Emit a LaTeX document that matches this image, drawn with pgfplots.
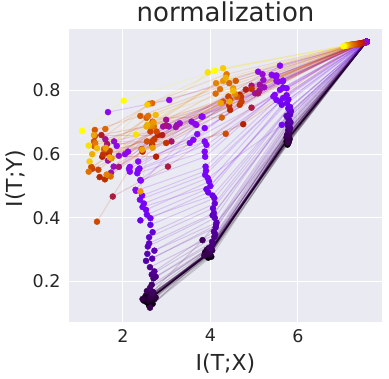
\documentclass[border=0pt]{standalone}
\usepackage{fontspec}
\setmainfont{DejaVu Sans}
\usepackage{pgfplots}
\usepackage{pgfplotstable}
\pgfplotsset{compat=1.18}
\definecolor{bgc}{HTML}{EAEAF2}
\definecolor{txt}{HTML}{262626}

% one row per epoch: colour value (0..1000) and I(T;X), I(T;Y) of the four layers
\pgfplotstableread{
c xa ya xb yb xc yc xd yd
0 7.57 0.953 5.76 0.630 3.95 0.275 2.60 0.125
1 7.57 0.953 5.78 0.648 3.96 0.288 2.65 0.148
2 7.57 0.953 5.78 0.642 3.96 0.285 2.64 0.148
3 7.57 0.953 5.78 0.650 3.97 0.289 2.66 0.150
4 7.57 0.953 5.77 0.649 3.96 0.287 2.64 0.147
5 7.57 0.953 5.78 0.635 3.98 0.280 2.55 0.135
6 7.57 0.953 5.78 0.651 3.97 0.290 2.65 0.151
7 7.57 0.953 5.79 0.650 3.96 0.288 2.66 0.149
8 7.57 0.953 5.77 0.646 3.95 0.288 2.66 0.150
9 7.57 0.953 5.78 0.652 3.97 0.289 2.65 0.150
10 7.57 0.953 5.74 0.640 3.90 0.285 2.48 0.140
11 7.57 0.953 5.78 0.649 3.96 0.290 2.64 0.149
12 7.57 0.953 5.79 0.650 3.97 0.290 2.68 0.152
13 7.57 0.953 5.78 0.653 3.97 0.291 2.66 0.151
14 7.56 0.953 5.80 0.645 4.02 0.278 2.68 0.130
15 7.57 0.953 5.78 0.648 3.96 0.288 2.65 0.150
16 7.57 0.953 5.78 0.648 3.96 0.287 2.65 0.146
17 7.57 0.953 5.79 0.651 3.97 0.290 2.66 0.152
18 7.57 0.953 5.77 0.650 3.93 0.290 2.62 0.150
19 7.57 0.953 5.78 0.650 3.96 0.289 2.65 0.149
20 7.57 0.953 5.79 0.644 3.98 0.284 2.67 0.144
21 7.57 0.953 5.78 0.652 3.97 0.290 2.66 0.151
22 7.56 0.953 5.75 0.655 3.97 0.283 2.72 0.145
23 7.57 0.953 5.78 0.649 3.96 0.289 2.65 0.150
24 7.57 0.953 5.78 0.652 3.95 0.291 2.63 0.154
25 7.57 0.953 5.78 0.651 3.97 0.290 2.66 0.150
26 7.57 0.953 5.79 0.640 3.88 0.292 2.52 0.155
27 7.57 0.953 5.78 0.650 3.96 0.289 2.65 0.151
28 7.57 0.953 5.77 0.647 3.97 0.286 2.66 0.149
29 7.57 0.953 5.78 0.652 3.97 0.291 2.66 0.152
30 7.56 0.953 5.76 0.660 4.00 0.295 2.65 0.160
32 7.57 0.953 5.79 0.653 3.96 0.289 2.64 0.151
34 7.57 0.953 5.81 0.648 3.95 0.288 2.58 0.140
36 7.57 0.953 5.78 0.656 3.94 0.292 2.67 0.156
38 7.56 0.953 5.78 0.665 3.92 0.300 2.75 0.150
40 7.57 0.953 5.77 0.649 3.97 0.285 2.62 0.147
42 7.57 0.953 5.74 0.652 3.99 0.286 2.45 0.145
44 7.57 0.953 5.79 0.658 3.96 0.293 2.66 0.158
46 7.56 0.953 5.80 0.668 4.04 0.298 2.70 0.165
48 7.57 0.953 5.78 0.654 3.95 0.290 2.64 0.153
50 7.57 0.953 5.77 0.636 3.86 0.282 2.62 0.118
52 7.57 0.953 5.79 0.661 3.97 0.294 2.68 0.160
55 7.56 0.953 5.79 0.672 3.96 0.305 2.55 0.170
58 7.57 0.953 5.78 0.664 3.98 0.296 2.66 0.162
60 7.57 0.953 5.75 0.660 3.82 0.330 2.68 0.168
70 7.57 0.953 5.78 0.675 4.02 0.310 2.66 0.190
75 7.57 0.953 5.79 0.678 3.99 0.305 2.62 0.180
80 7.57 0.953 5.82 0.680 4.06 0.320 2.70 0.210
85 7.57 0.953 5.81 0.684 4.04 0.325 2.75 0.215
90 7.57 0.953 5.80 0.688 4.09 0.340 2.66 0.222
95 7.57 0.953 5.77 0.690 4.11 0.348 2.62 0.245
100 7.57 0.953 5.76 0.695 4.08 0.357 2.72 0.232
110 7.57 0.953 5.83 0.700 4.12 0.370 2.53 0.265
115 7.57 0.953 5.80 0.706 4.13 0.378 2.67 0.272
120 7.57 0.953 5.78 0.712 4.14 0.385 2.56 0.287
130 7.57 0.953 5.74 0.720 4.10 0.400 2.72 0.297
135 7.57 0.953 5.82 0.724 4.05 0.408 2.57 0.310
140 7.57 0.953 5.81 0.728 4.08 0.415 2.60 0.320
150 7.57 0.953 5.84 0.735 4.06 0.430 2.60 0.339
160 7.57 0.953 5.79 0.742 4.10 0.445 2.68 0.355
170 7.57 0.953 5.82 0.748 4.09 0.462 2.63 0.378
180 7.57 0.953 5.78 0.744 4.05 0.470 2.40 0.392
190 7.57 0.953 5.63 0.755 3.95 0.480 2.63 0.399
200 7.57 0.953 5.75 0.760 3.91 0.490 2.55 0.410
205 7.57 0.953 5.59 0.765 3.97 0.514 2.53 0.425
210 7.57 0.953 5.78 0.772 4.00 0.500 2.45 0.434
215 7.57 0.953 5.63 0.692 3.94 0.525 2.48 0.445
220 7.57 0.953 5.66 0.776 3.88 0.535 2.39 0.457
225 7.57 0.953 5.74 0.785 3.90 0.548 2.44 0.470
230 7.57 0.953 5.51 0.770 3.89 0.561 2.30 0.485
240 7.57 0.953 5.66 0.809 3.88 0.592 2.41 0.517
245 7.57 0.953 5.47 0.786 3.87 0.608 2.33 0.540
250 7.57 0.953 5.74 0.807 3.91 0.629 2.35 0.550
255 7.57 0.952 5.59 0.802 3.87 0.640 2.38 0.555
260 7.57 0.952 5.55 0.828 3.70 0.663 2.14 0.554
265 7.57 0.952 5.44 0.781 3.61 0.645 2.35 0.577
270 7.57 0.952 5.66 0.831 3.87 0.682 2.16 0.545
275 7.56 0.952 5.47 0.846 3.53 0.635 2.40 0.519
280 7.56 0.952 5.51 0.847 3.80 0.718 2.12 0.608
285 7.56 0.952 5.59 0.878 3.68 0.692 2.29 0.488
290 7.56 0.952 5.40 0.849 3.57 0.702 2.16 0.560
295 7.55 0.952 5.65 0.828 3.82 0.718 1.86 0.626
300 7.55 0.951 5.09 0.859 3.06 0.770 1.66 0.732
310 7.55 0.951 5.51 0.830 3.65 0.695 2.05 0.600
340 7.52 0.950 5.19 0.851 3.30 0.697 1.91 0.595
350 7.52 0.950 5.21 0.833 3.05 0.687 1.80 0.640
360 7.52 0.950 5.23 0.810 3.24 0.692 1.79 0.561
380 7.50 0.950 5.12 0.800 3.21 0.685 1.73 0.542
390 7.50 0.950 5.13 0.818 2.92 0.687 1.66 0.580
400 7.50 0.950 5.02 0.791 2.99 0.708 1.60 0.647
420 7.48 0.949 4.94 0.815 2.99 0.690 1.91 0.560
430 7.48 0.949 5.09 0.791 3.11 0.640 1.64 0.632
460 7.45 0.948 4.94 0.746 3.03 0.561 1.77 0.467
480 7.45 0.948 4.81 0.803 2.90 0.660 1.51 0.660
500 7.43 0.948 4.75 0.694 2.76 0.592 1.53 0.592
520 7.42 0.947 4.67 0.786 2.80 0.660 1.68 0.601
540 7.40 0.947 4.45 0.739 2.45 0.608 1.47 0.528
560 7.38 0.947 4.43 0.753 2.67 0.630 1.59 0.521
580 7.36 0.946 4.94 0.805 2.99 0.635 1.55 0.600
590 7.36 0.946 4.70 0.780 2.72 0.647 1.70 0.610
600 7.35 0.946 4.67 0.755 2.62 0.689 1.36 0.657
620 7.33 0.946 4.71 0.765 2.67 0.640 1.30 0.554
640 7.31 0.945 4.41 0.781 2.63 0.671 1.44 0.551
650 7.31 0.945 4.45 0.770 2.77 0.671 1.28 0.560
660 7.30 0.945 4.35 0.664 2.43 0.616 1.41 0.388
680 7.28 0.945 4.29 0.765 2.55 0.640 1.34 0.640
700 7.27 0.944 4.58 0.830 2.40 0.720 1.36 0.676
710 7.26 0.944 4.61 0.780 2.68 0.702 1.35 0.625
720 7.25 0.944 4.26 0.715 2.54 0.714 1.57 0.616
740 7.23 0.944 4.43 0.823 2.67 0.760 1.60 0.679
750 7.22 0.943 4.12 0.790 2.71 0.687 1.72 0.530
760 7.21 0.943 4.22 0.804 2.58 0.720 1.22 0.545
780 7.20 0.943 4.37 0.851 2.60 0.758 1.37 0.634
800 7.18 0.943 4.13 0.823 2.67 0.690 1.63 0.536
820 7.16 0.942 4.56 0.789 2.62 0.689 1.74 0.587
840 7.14 0.942 4.29 0.830 2.70 0.700 2.40 0.483
850 7.13 0.942 4.52 0.807 2.68 0.620 1.61 0.620
860 7.12 0.941 4.24 0.760 2.44 0.614 1.34 0.660
870 7.12 0.941 4.44 0.765 2.54 0.687 1.70 0.590
880 7.11 0.941 4.35 0.840 2.56 0.692 1.30 0.600
900 7.10 0.941 4.52 0.799 2.75 0.723 1.41 0.619
930 7.08 0.940 4.29 0.870 2.56 0.755 1.24 0.577
960 7.06 0.940 3.94 0.857 2.30 0.661 1.22 0.627
1000 7.04 0.939 4.10 0.862 2.02 0.768 1.07 0.673
}\epochs

\begin{document}
\begin{tikzpicture}
\begin{axis}[
  at={(0,0)},anchor=south west,
  width=313pt,height=293pt,scale only axis,
  xmin=0.77,xmax=7.92,ymin=0.073,ymax=0.993,
  axis background/.style={fill=bgc},
  axis line style={draw=none},
  grid=major,grid style={white,line width=1.1pt},
  major tick length=0pt,
  xtick={2,4,6},ytick={0.2,0.4,0.6,0.8},
  /pgf/number format/assume math mode=true,
  tick label style={font=\fontsize{17.5}{20}\selectfont,text=txt},
  yticklabel style={/pgf/number format/fixed,/pgf/number format/precision=1,/pgf/number format/fixed zerofill,xshift=-5pt},
  xticklabel style={yshift=-3.5pt},
  xlabel={I(T;X)},ylabel={I(T;Y)},
  label style={font=\fontsize{22}{26}\selectfont,text=txt},
  xlabel style={at={(axis description cs:0.5,-0.167)},anchor=base},
  ylabel style={at={(axis description cs:-0.148,0.49)},anchor=base},
  title={normalization},every axis title shift=0pt,
  title style={font=\fontsize{26}{30}\selectfont,text=txt,at={(axis description cs:0.5,1.025)},anchor=base},
  colormap={gp}{rgb=(0,0,0) rgb=(0.224,0.0001,0.309) rgb=(0.316,0.001,0.588) rgb=(0.387,0.003,0.809)
    rgb=(0.447,0.008,0.951) rgb=(0.5,0.016,1) rgb=(0.548,0.027,0.951) rgb=(0.592,0.043,0.809)
    rgb=(0.632,0.064,0.588) rgb=(0.671,0.091,0.309) rgb=(0.707,0.125,0) rgb=(0.742,0.166,0)
    rgb=(0.775,0.216,0) rgb=(0.806,0.275,0) rgb=(0.837,0.343,0) rgb=(0.866,0.422,0)
    rgb=(0.894,0.512,0) rgb=(0.922,0.614,0) rgb=(0.949,0.729,0) rgb=(0.975,0.857,0) rgb=(1,1,0)},
  point meta min=0,point meta max=1000,
]
% connecting lines, layer to layer
\addplot[quiver={u=\thisrow{xb}-\thisrow{xa},v=\thisrow{yb}-\thisrow{ya},colored=mapped color},point meta=explicit,line width=1pt,draw opacity=0.17] table[x=xa,y=ya,meta=c]{\epochs};
\addplot[quiver={u=\thisrow{xc}-\thisrow{xb},v=\thisrow{yc}-\thisrow{yb},colored=mapped color},point meta=explicit,line width=1pt,draw opacity=0.17] table[x=xb,y=yb,meta=c]{\epochs};
\addplot[quiver={u=\thisrow{xd}-\thisrow{xc},v=\thisrow{yd}-\thisrow{yc},colored=mapped color},point meta=explicit,line width=1pt,draw opacity=0.17] table[x=xc,y=yc,meta=c]{\epochs};
% layer points
\addplot[scatter,only marks,mark=*,mark size=3pt,point meta=explicit,scatter/use mapped color={draw=mapped color,fill=mapped color}] table[x=xa,y=ya,meta=c]{\epochs};
\addplot[scatter,only marks,mark=*,mark size=3pt,point meta=explicit,scatter/use mapped color={draw=mapped color,fill=mapped color}] table[x=xb,y=yb,meta=c]{\epochs};
\addplot[scatter,only marks,mark=*,mark size=3pt,point meta=explicit,scatter/use mapped color={draw=mapped color,fill=mapped color}] table[x=xc,y=yc,meta=c]{\epochs};
\addplot[scatter,only marks,mark=*,mark size=3pt,point meta=explicit,scatter/use mapped color={draw=mapped color,fill=mapped color}] table[x=xd,y=yd,meta=c]{\epochs};
\end{axis}
\pgfresetboundingbox
\path (-69pt,-57pt) rectangle (320pt,322pt);
\end{tikzpicture}
\end{document}
